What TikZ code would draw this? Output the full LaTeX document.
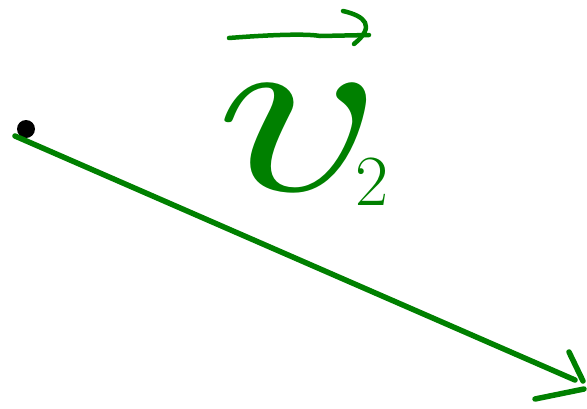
\documentclass[tikz,border=0pt]{standalone}
\usepackage{graphicx}
\usetikzlibrary{arrows.meta}
\definecolor{pen}{RGB}{0,128,0}
\tikzset{
  stroke/.style={draw=pen, line width=5.5pt, line cap=round, line join=round},
  thinstroke/.style={draw=pen, line width=4.5pt, line cap=round, line join=round},
  dot/.style={circle, fill=black, inner sep=0pt, minimum size=18pt},
  label/.style={text=pen, inner sep=0pt}
}
\begin{document}
\begin{tikzpicture}[x=1pt,y=-1pt]
\useasboundingbox (0,0) rectangle (587,408);
% dot and main arrow
\node[dot] (p) at (26,129) {};
\coordinate (s) at (15,136);
\coordinate (e) at (575,380);
\draw[stroke] (s) -- (e);
\coordinate (h1a) at (569,352);
\coordinate (h1b) at (583,381);
\coordinate (h2a) at (535,399);
\coordinate (h2b) at (584,389);
\draw[stroke] (h1a) -- (h1b);
\draw[stroke] (h2a) -- (h2b);
% label v_2 with vector arrow
\node[label, anchor=base west] (v) at (215,190) {\resizebox{168pt}{105pt}{$v$}};
\node[label, anchor=base, font=\fontsize{72}{72}\selectfont] (two) at (372,205) {2};
\coordinate (va) at (229,38);
\coordinate (vb) at (369,35);
\draw[thinstroke] (va) .. controls (280,34) and (310,34) .. (320,36) -- (vb);
\draw[thinstroke] (343,11) .. controls (365,16) and (376,26) .. (354,44);
\end{tikzpicture}
\end{document}
